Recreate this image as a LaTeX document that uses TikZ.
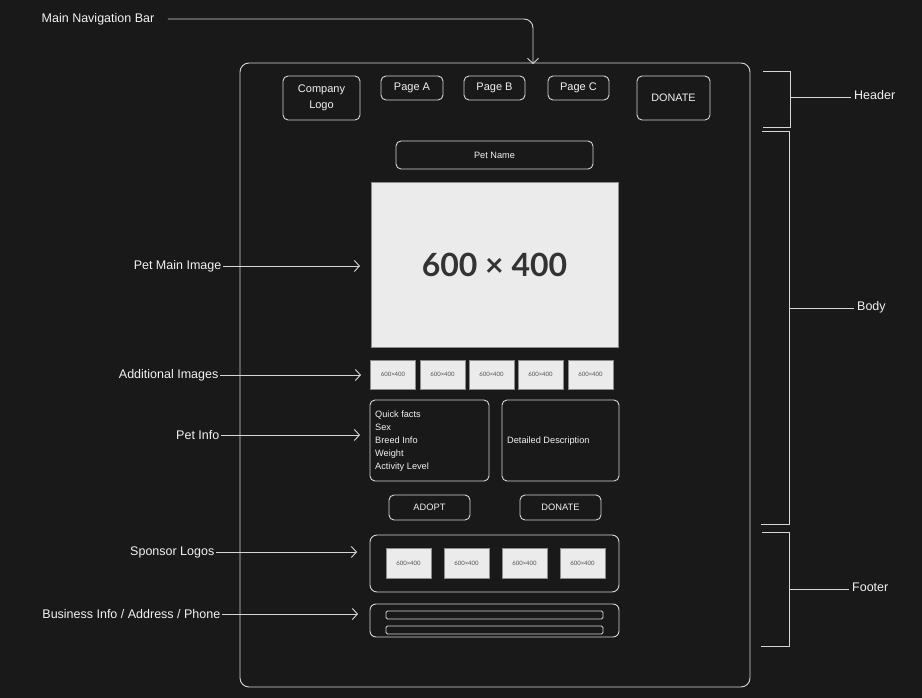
\documentclass[tikz,border=0pt]{standalone}
\usepackage{fontspec}
\setmainfont{Liberation Sans}
\newfontfamily\phfont{Lato}
\usetikzlibrary{arrows.meta}
\definecolor{bgc}{HTML}{191919}
\definecolor{ink}{HTML}{D6D6D6}
\definecolor{txt}{HTML}{F2F2F2}
\definecolor{phfill}{HTML}{EBEBEB}
\definecolor{phedge}{HTML}{8C8C8C}
\definecolor{phtext}{HTML}{333333}
\tikzset{
  wire/.style={draw=ink, line width=0.9pt},
  box/.style={wire, rounded corners=5pt, text=txt, inner sep=0pt, align=center},
  holder/.style={draw=phedge, fill=phfill, line width=0.9pt, inner sep=0pt, text=phtext},
  smallph/.style={holder, minimum width=45pt, minimum height=29pt, font=\phfont\fontsize{6}{7}\selectfont, text=phtext!85},
  lbl/.style={text=txt, font=\fontsize{12.5}{14}\selectfont, inner sep=1.5pt},
  callout/.style={wire, -{Straight Barb[length=5pt,width=11pt,line width=0.9pt]}},
}
\begin{document}
\begin{tikzpicture}[x=1pt,y=-1pt]
\useasboundingbox (0,0) rectangle (922,698);
\fill[bgc] (0,0) rectangle (922,698);

% page frame
\node[box, rounded corners=9pt, minimum width=510pt, minimum height=624pt] (frame) at (495,375) {};

% header row
\node[box, minimum width=77pt, minimum height=44pt, font=\fontsize{11}{16}\selectfont] (logo) at (321.5,98) {Company\\Logo};
\node[box, minimum width=62pt, minimum height=24pt, font=\fontsize{11}{13}\selectfont] (pa) at (412,88) {Page A};
\node[box, minimum width=61pt, minimum height=24pt, font=\fontsize{11}{13}\selectfont] (pb) at (494.5,88) {Page B};
\node[box, minimum width=61pt, minimum height=24pt, font=\fontsize{11}{13}\selectfont] (pc) at (578.5,88) {Page C};
\node[box, minimum width=73pt, minimum height=44pt, font=\fontsize{10.8}{13}\selectfont] (don1) at (673.5,98) {DONATE};

% body
\node[box, minimum width=197pt, minimum height=28pt, font=\fontsize{9.2}{11}\selectfont] (pname) at (494.5,155) {Pet Name};
\node[holder, minimum width=247pt, minimum height=165pt, font=\phfont\bfseries\fontsize{32}{36}\selectfont] (mainimg) at (494.5,265) {600 × 400};

\node[smallph] (s1) at (393,374.5) {600×400};
\node[smallph] (s2) at (442.5,374.5) {600×400};
\node[smallph] (s3) at (491.5,374.5) {600×400};
\node[smallph] (s4) at (540.5,374.5) {600×400};
\node[smallph] (s5) at (590.5,374.5) {600×400};

\node[box, minimum width=119pt, minimum height=81pt] (info) at (429.5,440.5) {};
\node[text=txt, anchor=north west, align=left, inner sep=0pt, font=\fontsize{9.2}{13}\selectfont] (facts) at (375,410.5) {Quick facts\\Sex\\Breed Info\\Weight\\Activity Level};
\node[box, minimum width=117pt, minimum height=81pt] (desc) at (560.5,440.5) {};
\node[text=txt, anchor=west, inner sep=0pt, font=\fontsize{9.2}{11}\selectfont] (desctxt) at (507,441) {Detailed Description};

\node[box, minimum width=81pt, minimum height=25pt, font=\fontsize{9.3}{11}\selectfont] (adopt) at (429.5,507.5) {ADOPT};
\node[box, minimum width=81pt, minimum height=25pt, font=\fontsize{9.3}{11}\selectfont] (don2) at (560.5,507.5) {DONATE};

% footer
\node[box, rounded corners=7pt, minimum width=249pt, minimum height=57pt] (sponsor) at (494.5,563.5) {};
\node[smallph, minimum height=30pt] (f1) at (408.5,563) {600×400};
\node[smallph, minimum height=30pt] (f2) at (466.5,563) {600×400};
\node[smallph, minimum height=30pt] (f3) at (524.5,563) {600×400};
\node[smallph, minimum height=30pt] (f4) at (582.5,563) {600×400};

\node[box, rounded corners=6pt, minimum width=249pt, minimum height=33pt] (biz) at (494.5,620.5) {};
\node[box, rounded corners=1.5pt, minimum width=217pt, minimum height=8pt] (bar1) at (494.5,615) {};
\node[box, rounded corners=1.5pt, minimum width=217pt, minimum height=8pt] (bar2) at (494.5,630) {};

% callouts on the left
\node[lbl, anchor=west] (navlbl) at (40,19) {Main Navigation Bar};
\coordinate (navturn) at (533,19);
\coordinate (navtip) at (533,64);
\draw[callout, rounded corners=9pt, shorten <=12pt] (navlbl.east) -- (navturn) -- (navtip);

\node[lbl, anchor=east] (lmain) at (223,266) {Pet Main Image};
\coordinate (tmain) at (360,266);
\draw[callout] (lmain.east) -- (tmain);

\node[lbl, anchor=east] (ladd) at (220,375) {Additional Images};
\coordinate (tadd) at (361,375);
\draw[callout] (ladd.east) -- (tadd);

\node[lbl, anchor=east] (linfo) at (221,435) {Pet Info};
\coordinate (tinfo) at (360,435);
\draw[callout] (linfo.east) -- (tinfo);

\node[lbl, anchor=east] (lspon) at (216,552) {Sponsor Logos};
\coordinate (tspon) at (357,552);
\draw[callout] (lspon.east) -- (tspon);

\node[lbl, anchor=east] (lbiz) at (222,614) {Business Info / Address / Phone};
\coordinate (tbiz) at (358,614);
\draw[callout] (lbiz.east) -- (tbiz);

% section brackets on the right
\draw[wire] (763,71) -- (790,71) -- (790,127) -- (763,127);
\node[lbl, anchor=west, inner sep=3pt] (hdr) at (851,95) {Header};
\coordinate (hdrtick) at (790,97);
\draw[wire] (hdrtick) -- (hdrtick -| hdr.west);

\draw[wire] (762,131) -- (789,131) -- (789,524) -- (761,524);
\node[lbl, anchor=west, inner sep=3pt] (bdy) at (854,307) {Body};
\coordinate (bdytick) at (789,308);
\draw[wire] (bdytick) -- (bdytick -| bdy.west);

\draw[wire] (762,532) -- (789,532) -- (789,646) -- (761,646);
\node[lbl, anchor=west, inner sep=3pt] (ftr) at (849,587) {Footer};
\coordinate (ftrtick) at (789,589);
\draw[wire] (ftrtick) -- (ftrtick -| ftr.west);
\end{tikzpicture}
\end{document}
